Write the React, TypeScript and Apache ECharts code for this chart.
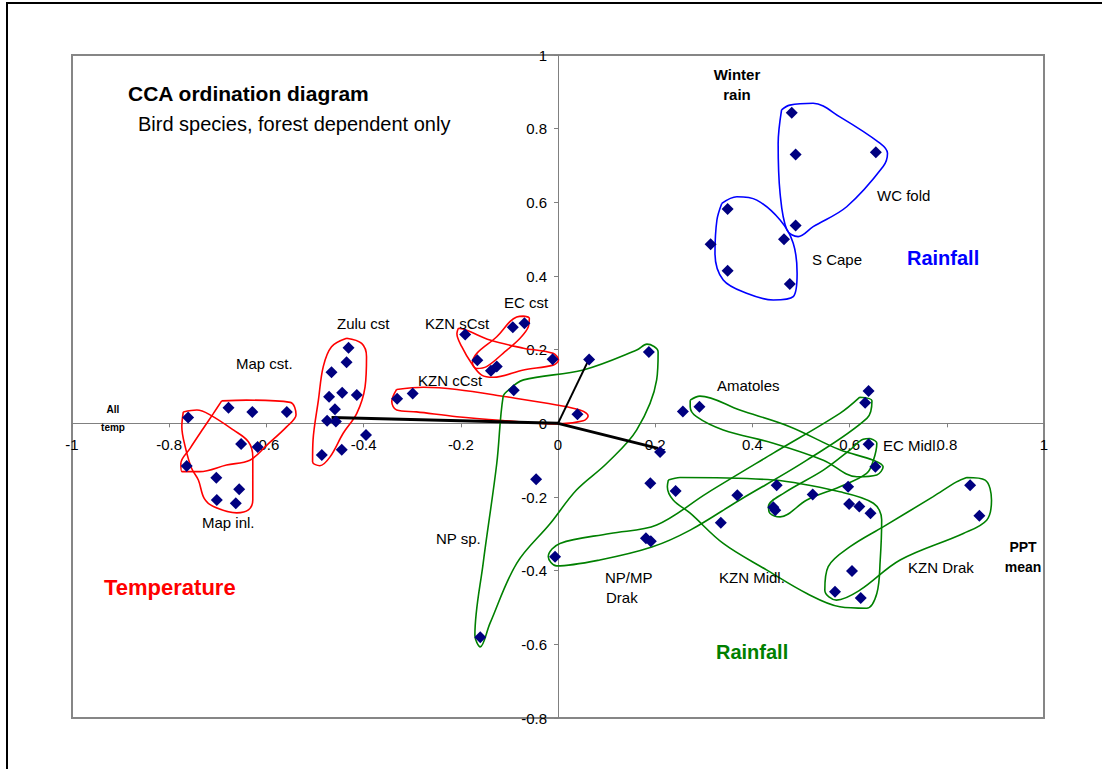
import React, { useEffect, useRef } from "react";
import * as echarts from "echarts";

// ---- Species scores (axis 1, axis 2) ----
const mapGroup = [
  [-0.761, 0.016], [-0.678, 0.042], [-0.629, 0.031], [-0.558, 0.031], [-0.652, -0.056],
  [-0.618, -0.064], [-0.764, -0.116], [-0.703, -0.148], [-0.656, -0.179], [-0.702, -0.208],
  [-0.663, -0.217],
];
const zuluCst = [
  [-0.431, 0.205], [-0.435, 0.166], [-0.466, 0.139], [-0.471, 0.072], [-0.444, 0.083],
  [-0.414, 0.077], [-0.459, 0.038], [-0.475, 0.007], [-0.457, 0.005], [-0.395, -0.032],
  [-0.445, -0.072], [-0.486, -0.086],
];
const kznCoast = [
  [-0.331, 0.067], [-0.299, 0.081], [0.040, 0.025], [-0.191, 0.241], [-0.166, 0.171],
  [-0.138, 0.143], [-0.126, 0.154], [-0.011, 0.174], [-0.093, 0.261], [-0.069, 0.272],
];
const inland = [
  [-0.091, 0.090], [0.064, 0.173], [-0.045, -0.152], [0.187, 0.194], [0.210, -0.078],
  [0.190, -0.163], [0.242, -0.184], [0.181, -0.312], [0.191, -0.320], [-0.006, -0.362],
  [-0.160, -0.581], [0.257, 0.032], [0.291, 0.045], [0.639, 0.088], [0.632, 0.056],
  [0.639, -0.057], [0.653, -0.118], [0.369, -0.195], [0.450, -0.168], [0.524, -0.193],
  [0.597, -0.172], [0.443, -0.228], [0.447, -0.236], [0.599, -0.219], [0.620, -0.226],
  [0.643, -0.244], [0.335, -0.270], [0.605, -0.401], [0.570, -0.457], [0.623, -0.474],
  [0.848, -0.168], [0.867, -0.251],
];
const winterRain = [
  [0.481, 0.843], [0.489, 0.730], [0.654, 0.736], [0.489, 0.537], [0.349, 0.582],
  [0.314, 0.486], [0.465, 0.500], [0.349, 0.414], [0.477, 0.378],
];

// ---- Environmental biplot vectors ----
const allTemp = [-0.466, 0.016];
const pptMean = [0.206, -0.068];
const winterVec = [0.064, 0.175];

// ---- Hand-drawn group outlines ----
const hullMapCst = [
  [-0.692, 0.061], [-0.641, 0.063], [-0.551, 0.057], [-0.539, 0.023], [-0.558, -0.009],
  [-0.599, -0.059], [-0.634, -0.100], [-0.682, -0.113], [-0.737, -0.131], [-0.774, -0.131],
  [-0.776, -0.109], [-0.757, -0.068], [-0.730, -0.014], [-0.709, 0.027],
];
const hullMapInl = [
  [-0.771, 0.031], [-0.743, 0.036], [-0.716, 0.023], [-0.668, -0.018], [-0.637, -0.050],
  [-0.628, -0.091], [-0.628, -0.208], [-0.637, -0.235], [-0.661, -0.243], [-0.709, -0.226],
  [-0.728, -0.204], [-0.740, -0.154], [-0.754, -0.122], [-0.767, -0.064], [-0.774, -0.009],
];
const hullZulu = [
  [-0.435, 0.231], [-0.404, 0.217], [-0.394, 0.181], [-0.397, 0.099], [-0.414, 0.027],
  [-0.442, -0.027], [-0.469, -0.091], [-0.490, -0.115], [-0.505, -0.104], [-0.504, -0.045],
  [-0.493, 0.063], [-0.483, 0.154], [-0.466, 0.208],
];
const hullKznC = [
  [-0.332, 0.092], [-0.277, 0.098], [-0.208, 0.092], [-0.106, 0.072], [-0.003, 0.050],
  [0.045, 0.036], [0.062, 0.020], [0.052, 0.007], [-0.003, -0.002], [-0.106, 0.007],
  [-0.208, 0.018], [-0.291, 0.031], [-0.332, 0.036], [-0.342, 0.059],
];
const hullKznS = [
  [-0.205, 0.258], [-0.188, 0.253], [-0.140, 0.226], [-0.071, 0.204], [-0.010, 0.190],
  [0.001, 0.172], [-0.010, 0.158], [-0.071, 0.145], [-0.133, 0.125], [-0.157, 0.131],
  [-0.178, 0.163], [-0.198, 0.208], [-0.208, 0.244],
];
const hullEcCst = [
  [-0.071, 0.291], [-0.059, 0.285], [-0.061, 0.262], [-0.078, 0.231], [-0.113, 0.190],
  [-0.147, 0.154], [-0.167, 0.149], [-0.176, 0.163], [-0.167, 0.190], [-0.126, 0.235],
  [-0.099, 0.276], [-0.085, 0.289],
];
const hullNpSp = [
  [-0.102, 0.090], [-0.071, 0.118], [0.052, 0.145], [0.162, 0.199], [0.183, 0.215],
  [0.206, 0.194], [0.203, 0.118], [0.162, -0.018], [0.100, -0.109], [0.038, -0.181],
  [-0.016, -0.272], [-0.085, -0.380], [-0.140, -0.543], [-0.160, -0.607], [-0.171, -0.575],
  [-0.154, -0.380], [-0.126, -0.109], [-0.113, 0.072],
];
const hullNpMp = [
  [0.621, 0.071], [0.646, 0.061], [0.636, 0.014], [0.512, -0.100], [0.374, -0.208],
  [0.272, -0.290], [0.193, -0.336], [0.086, -0.371], [-0.003, -0.387], [-0.020, -0.362],
  [0.004, -0.326], [0.107, -0.299], [0.203, -0.276], [0.306, -0.190], [0.443, -0.081],
  [0.580, 0.027],
];
const hullAmatoles = [
  [0.272, 0.063], [0.292, 0.074], [0.374, 0.036], [0.477, -0.009], [0.580, -0.072],
  [0.649, -0.100], [0.669, -0.118], [0.656, -0.140], [0.615, -0.145], [0.546, -0.100],
  [0.443, -0.054], [0.340, -0.018], [0.285, 0.018], [0.272, 0.045],
];
const hullEcMidl = [
  [0.642, -0.041], [0.656, -0.054], [0.649, -0.100], [0.635, -0.136], [0.580, -0.172],
  [0.512, -0.208], [0.457, -0.254], [0.436, -0.244], [0.433, -0.226], [0.464, -0.190],
  [0.546, -0.127], [0.601, -0.072], [0.628, -0.043],
];
const hullKznMidl = [
  [0.227, -0.154], [0.251, -0.147], [0.443, -0.154], [0.580, -0.186], [0.649, -0.217],
  [0.666, -0.262], [0.663, -0.371], [0.656, -0.462], [0.635, -0.502], [0.580, -0.498],
  [0.512, -0.462], [0.429, -0.398], [0.340, -0.326], [0.272, -0.244], [0.237, -0.208],
  [0.225, -0.172],
];
const hullKznDrak = [
  [0.841, -0.147], [0.879, -0.154], [0.892, -0.209], [0.882, -0.263], [0.834, -0.299],
  [0.704, -0.371], [0.621, -0.453], [0.573, -0.480], [0.549, -0.453], [0.556, -0.389],
  [0.601, -0.335], [0.669, -0.281], [0.772, -0.199], [0.820, -0.159],
];
const hullWcFold = [
  [0.460, 0.851], [0.477, 0.864], [0.525, 0.869], [0.580, 0.832], [0.663, 0.760],
  [0.678, 0.733], [0.669, 0.697], [0.594, 0.588], [0.525, 0.534], [0.494, 0.507],
  [0.471, 0.525], [0.457, 0.624], [0.453, 0.760],
];
const hullSCape = [
  [0.337, 0.597], [0.368, 0.615], [0.409, 0.606], [0.457, 0.552], [0.484, 0.489],
  [0.492, 0.407], [0.484, 0.344], [0.443, 0.335], [0.388, 0.353], [0.340, 0.389],
  [0.323, 0.462], [0.327, 0.552],
];

const FONT = '"Liberation Sans", Arial, sans-serif';

// grid geometry
const GRID_LEFT = 72;
const GRID_TOP = 55;
const GRID_W = 972;
const GRID_H = 663;
const X_MIN = -1, X_MAX = 1, Y_MIN = -0.8, Y_MAX = 1;

export default function App() {
  const ref = useRef<HTMLDivElement>(null);

  useEffect(() => {
    const chart = echarts.init(ref.current!, null, { renderer: "svg" });

    // put the axes through the origin (labels included)
    const xAxisOffset = -(GRID_H * (0 - Y_MIN)) / (Y_MAX - Y_MIN);
    const yAxisOffset = -(GRID_W * (0 - X_MIN)) / (X_MAX - X_MIN);

    const hull = (pts: number[][], color: string) => ({
      type: "line",
      data: [...pts, pts[0]],
      smooth: 0.35,
      symbol: "none",
      silent: true,
      lineStyle: { color, width: 1.6 },
      z: 2,
    });
    const vector = (end: number[], width: number) => ({
      type: "line",
      data: [[0, 0], end],
      symbol: "none",
      silent: true,
      lineStyle: { color: "#000", width },
      z: 3,
    });

    const txt = (
      text: string,
      x: number,
      y: number,
      size: number,
      opts: { bold?: boolean; color?: string; align?: string } = {}
    ) => ({
      type: "text",
      x,
      y,
      silent: true,
      z: 10,
      style: {
        text,
        font: `${opts.bold ? "bold " : ""}${size}px ${FONT}`,
        fill: opts.color || "#000",
        textAlign: opts.align || "left",
        textVerticalAlign: "middle",
        align: opts.align || "left",
        verticalAlign: "middle",
      },
    });

    const fmt = (v: number) => String(Math.round(v * 10) / 10);

    const option: any = {
      animation: false,
      backgroundColor: "#fff",
      grid: {
        left: GRID_LEFT,
        top: GRID_TOP,
        width: GRID_W,
        height: GRID_H,
        show: true,
        borderColor: "#868686",
        borderWidth: 2,
        backgroundColor: "transparent",
      },
      xAxis: {
        type: "value",
        min: X_MIN,
        max: X_MAX,
        interval: 0.2,
        position: "bottom",
        offset: xAxisOffset,
        axisLine: { onZero: false, lineStyle: { color: "#808080", width: 1 } },
        axisTick: { show: true, length: 4, lineStyle: { color: "#808080" } },
        axisLabel: { margin: 14, fontSize: 15, color: "#000", fontFamily: FONT, formatter: fmt },
        splitLine: { show: false },
      },
      yAxis: {
        type: "value",
        min: Y_MIN,
        max: Y_MAX,
        interval: 0.2,
        position: "left",
        offset: yAxisOffset,
        axisLine: { onZero: false, lineStyle: { color: "#808080", width: 1 } },
        axisTick: { show: true, length: 4, lineStyle: { color: "#808080" } },
        axisLabel: { margin: 11, fontSize: 15, color: "#000", fontFamily: FONT, formatter: fmt },
        splitLine: { show: false },
      },
      series: [
        hull(hullMapCst, "#ff0000"),
        hull(hullMapInl, "#ff0000"),
        hull(hullZulu, "#ff0000"),
        hull(hullKznC, "#ff0000"),
        hull(hullKznS, "#ff0000"),
        hull(hullEcCst, "#ff0000"),
        hull(hullNpSp, "#008000"),
        hull(hullNpMp, "#008000"),
        hull(hullAmatoles, "#008000"),
        hull(hullEcMidl, "#008000"),
        hull(hullKznMidl, "#008000"),
        hull(hullKznDrak, "#008000"),
        hull(hullWcFold, "#0000ff"),
        hull(hullSCape, "#0000ff"),
        vector(allTemp, 3),
        vector(pptMean, 3),
        vector(winterVec, 2),
        {
          type: "scatter",
          data: [...mapGroup, ...zuluCst, ...kznCoast, ...inland, ...winterRain],
          symbol: "diamond",
          symbolSize: 12,
          itemStyle: { color: "#000080", opacity: 1 },
          z: 5,
        },
      ],
      graphic: [
        {
          type: "rect",
          silent: true,
          shape: { x: 7, y: 3, width: 1200, height: 900 },
          style: { fill: "none", stroke: "#000", lineWidth: 2 },
          z: 0,
        },
        txt("CCA ordination diagram", 128, 93, 21, { bold: true }),
        txt("Bird species, forest dependent only", 138, 124, 20),
        txt("Winter", 737, 74, 15, { bold: true, align: "center" }),
        txt("rain", 737, 94, 15, { bold: true, align: "center" }),
        txt("WC fold", 877, 195, 15),
        txt("S Cape", 812, 259, 15),
        txt("Rainfall", 907, 258, 20, { bold: true, color: "#0000ff" }),
        txt("Zulu cst", 337, 323, 15),
        txt("Map cst.", 236, 363, 15),
        txt("KZN sCst", 425, 323, 15),
        txt("EC cst", 504, 302, 15),
        txt("KZN cCst", 418, 380, 15),
        txt("Amatoles", 717, 385, 15),
        txt("EC Midl.", 883, 445, 15),
        txt("NP sp.", 436, 538, 15),
        txt("NP/MP", 605, 577, 15),
        txt("Drak", 606, 597, 15),
        txt("KZN Midl.", 719, 577, 15),
        txt("KZN Drak", 908, 567, 15),
        txt("PPT", 1023, 547, 14, { bold: true, align: "center" }),
        txt("mean", 1023, 567, 14, { bold: true, align: "center" }),
        txt("Temperature", 104, 587, 22, { bold: true, color: "#ff0000" }),
        txt("Rainfall", 716, 652, 20, { bold: true, color: "#008000" }),
        txt("Map inl.", 202, 522, 15),
        txt("All", 113, 409, 10, { bold: true, align: "center" }),
        txt("temp", 113, 427, 10, { bold: true, align: "center" }),
      ],
    };

    chart.setOption(option);
    return () => chart.dispose();
  }, []);

  return (
    <div
      ref={ref}
      style={{ position: "fixed", left: 0, top: 0, width: 1102, height: 769, background: "#fff" }}
    />
  );
}
